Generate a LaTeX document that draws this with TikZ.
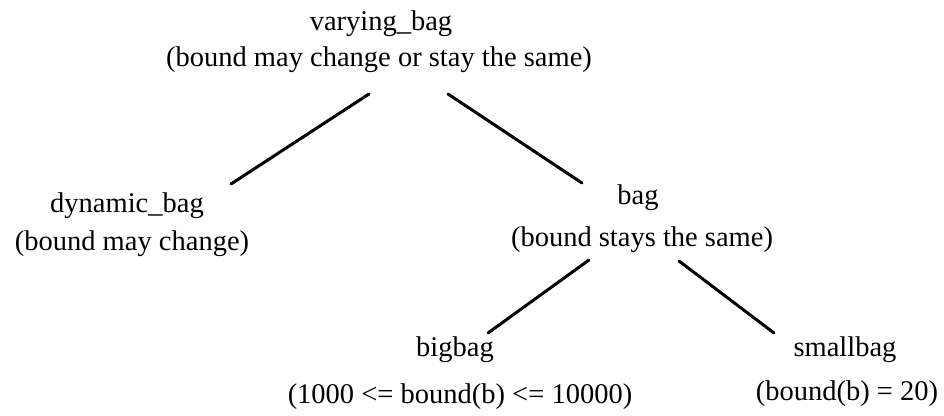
\documentclass[tikz,border=0pt]{standalone}
\usepackage{fontspec}
\setmainfont{Liberation Serif}
\begin{document}
\begin{tikzpicture}[x=1pt,y=-1pt,
  lbl/.style={anchor=base,inner sep=0pt,font=\fontsize{28.5}{34}\selectfont},
  edge/.style={line width=3pt,line cap=round}]
\useasboundingbox (0,0) rectangle (944,415);
% labels
\node[lbl] (vb)  at (381,30)  {varying\_bag};
\node[lbl] (vbd) at (379,66)  {(bound may change or stay the same)};
\node[lbl] (db)  at (127,212) {dynamic\_bag};
\node[lbl] (dbd) at (132,250) {(bound may change)};
\node[lbl] (b)   at (638,204) {bag};
\node[lbl] (bd)  at (642,246) {(bound stays the same)};
\node[lbl] (bb)  at (455,356) {bigbag};
\node[lbl] (bbd) at (460,403) {(1000 <= bound(b) <= 10000)};
\node[lbl] (sb)  at (845,356) {smallbag};
\node[lbl] (sbd) at (847,400) {(bound(b) = 20)};
% connector ends
\coordinate (vbL) at (369,94);
\coordinate (vbR) at (448,94);
\coordinate (dbT) at (231,184);
\coordinate (bT)  at (582,183);
\coordinate (bL)  at (589,260);
\coordinate (bR)  at (679,261);
\coordinate (bbT) at (488,333);
\coordinate (sbT) at (774,333);
% connectors
\draw[edge] (vbL) -- (dbT);
\draw[edge] (vbR) -- (bT);
\draw[edge] (bL) -- (bbT);
\draw[edge] (bR) -- (sbT);
\end{tikzpicture}
\end{document}
